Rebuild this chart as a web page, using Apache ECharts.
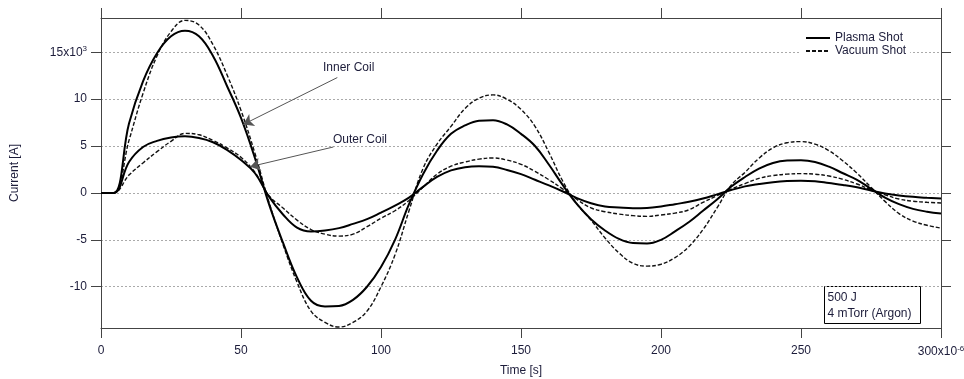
<!DOCTYPE html>
<html>
<head>
<meta charset="utf-8">
<script src="https://cdn.jsdelivr.net/npm/echarts@6/dist/echarts.min.js"></script>
<style>
  html, body { margin: 0; padding: 0; background: #fff; }
  #chart { width: 964px; height: 379px; }
</style>
</head>
<body>
<div id="chart"></div>
<script>
// time in microseconds (axis is labelled x10^-6 s)
const timeUs = [0, 4.5, 10, 15, 20, 25, 30, 35, 40, 45, 50, 55, 60, 65, 70, 75, 80, 85, 90, 95,
  100, 105, 110, 115, 120, 125, 130, 135, 140, 145, 150, 155, 160, 165, 170, 175, 180, 185, 190, 195,
  200, 205, 210, 215, 220, 225, 230, 235, 240, 245, 250, 255, 260, 265, 270, 275, 280, 285, 290, 295, 300];

// current in kA (axis is labelled x10^3 A)
const innerPlasma = [0, 0, 7.4, 11.9, 14.9, 16.7, 17.3, 16.7, 14.6, 11.4, 8.0, 3.7, -1.2, -5.3, -9.0, -11.5, -12.1, -12.05, -11.4, -10.0,
  -7.9, -5.0, -1.2, 2.0, 4.5, 6.3, 7.2, 7.7, 7.75, 7.3, 6.3, 5.0, 3.0, 0.8, -1.2, -2.8, -4.0, -4.9, -5.35, -5.4,
  -5.0, -4.1, -3.1, -1.9, -0.7, 0.65, 1.7, 2.6, 3.2, 3.45, 3.48, 3.3, 2.8, 2.1, 1.4, 0.45, -0.5, -1.2, -1.7, -2.0, -2.2];
const innerVacuum = [0, 0, 5.6, 10.6, 14.6, 17.2, 18.4, 17.9, 15.8, 12.6, 8.8, 4.2, -1.0, -5.5, -9.5, -12.6, -13.8, -14.3, -13.8, -12.6,
  -10.0, -6.6, -1.9, 2.6, 5.2, 7.1, 9.0, 10.1, 10.45, 10.0, 8.9, 7.1, 4.3, 1.2, -1.2, -2.9, -4.8, -6.4, -7.5, -7.8,
  -7.6, -6.9, -5.7, -3.9, -1.6, 0.8, 2.2, 3.7, 4.8, 5.35, 5.47, 5.2, 4.5, 3.4, 2.1, 0.6, -0.9, -2.2, -3.0, -3.45, -3.75];
const outerPlasma = [0, 0, 3.3, 4.9, 5.55, 5.9, 6.03, 5.85, 5.4, 4.6, 3.5, 2.1, -0.4, -2.3, -3.7, -4.1, -4.0, -3.75, -3.3, -2.8,
  -2.1, -1.35, -0.5, 0.65, 1.7, 2.4, 2.75, 2.85, 2.78, 2.45, 2.0, 1.4, 0.8, 0.15, -0.55, -1.1, -1.45, -1.55, -1.62, -1.6,
  -1.45, -1.2, -0.95, -0.6, -0.15, 0.3, 0.7, 0.95, 1.15, 1.27, 1.31, 1.25, 1.05, 0.85, 0.6, 0.25, -0.05, -0.27, -0.42, -0.52, -0.6];
const outerVacuum = [0, 0, 1.9, 3.2, 4.4, 5.5, 6.35, 6.2, 5.6, 4.8, 3.8, 2.2, -0.3, -1.6, -2.9, -3.9, -4.4, -4.6, -4.4, -3.6,
  -2.7, -1.9, -0.8, 0.6, 2.0, 2.85, 3.3, 3.6, 3.73, 3.5, 3.05, 2.3, 1.4, 0.4, -0.7, -1.6, -2.0, -2.25, -2.42, -2.5,
  -2.35, -2.15, -1.8, -1.0, -0.3, 0.4, 1.0, 1.55, 1.85, 2.0, 2.06, 2.0, 1.8, 1.45, 0.95, 0.35, -0.2, -0.65, -0.88, -1.0, -1.07];

const yTicks = [-10, -5, 0, 5, 10, 15];
const xMax = 300;

const pairs = (ys) => timeUs.map((t, i) => [t, ys[i]]);
const font = 'Arial, "Liberation Sans", sans-serif';
const textColor = '#1c1c3a';
const axisColor = '#444';

const supRich = {
  sup: { fontSize: 8, verticalAlign: 'top', color: textColor, fontFamily: font, padding: [0, 0, 6, 0] }
};

const chart = echarts.init(document.getElementById('chart'));

const solid = { color: '#000', width: 2 };
const dashed = { color: '#111', width: 1.4, type: [4, 2] };

chart.setOption({
  animation: false,
  textStyle: { fontFamily: font },
  grid: { left: 101, right: 23, top: 18, bottom: 51, containLabel: false, outerBoundsMode: 'none' },
  legend: {
    data: ['Plasma Shot', 'Vacuum Shot'],
    orient: 'vertical',
    left: 801,
    top: 32,
    itemWidth: 24,
    itemHeight: 14,
    itemGap: 1,
    padding: [0, 4],
    backgroundColor: '#fff',
    itemStyle: { opacity: 0 },
    textStyle: { fontSize: 12, color: textColor, fontFamily: font }
  },
  xAxis: [{
    type: 'value',
    min: 0, max: xMax, interval: 50,
    name: 'Time [s]',
    nameLocation: 'middle',
    nameGap: 37,
    nameTextStyle: { fontSize: 12, color: textColor, fontFamily: font },
    axisLine: { onZero: false, lineStyle: { color: axisColor } },
    axisTick: { inside: false, length: 10, lineStyle: { color: axisColor } },
    axisLabel: {
      margin: 17, fontSize: 12, color: textColor,
      formatter: (v) => v === xMax ? v + 'x10{sup|-6}' : String(v),
      rich: supRich
    },
    splitLine: { show: false }
  }, {
    type: 'value', position: 'top',
    min: 0, max: xMax, interval: 50,
    axisLine: { onZero: false, lineStyle: { color: axisColor } },
    axisTick: { inside: false, length: 10, lineStyle: { color: axisColor } },
    axisLabel: { show: false },
    splitLine: { show: false }
  }],
  yAxis: [{
    type: 'value',
    min: -14.4, max: 18.65,
    name: 'Current [A]',
    nameLocation: 'middle',
    nameGap: 80,
    nameTextStyle: { fontSize: 12, color: textColor, fontFamily: font },
    axisLine: { onZero: false, lineStyle: { color: axisColor } },
    axisTick: { inside: false, length: 10, customValues: yTicks, lineStyle: { color: axisColor } },
    axisLabel: {
      margin: 14, fontSize: 12, color: textColor,
      customValues: yTicks,
      formatter: (v) => v === 15 ? '15x10{sup|3}' : String(v),
      rich: supRich
    },
    splitLine: { show: true, lineStyle: { color: '#aaa', type: [2, 2], width: 1 } }
  }, {
    type: 'value', position: 'right',
    min: -14.4, max: 18.65,
    axisLine: { onZero: false, lineStyle: { color: axisColor } },
    axisTick: { inside: false, length: 10, customValues: yTicks, lineStyle: { color: axisColor } },
    axisLabel: { show: false },
    splitLine: { show: false }
  }],
  series: [
    {
      name: 'Plasma Shot', type: 'line', data: pairs(innerPlasma),
      smooth: 0.4, symbol: 'none', color: '#000', lineStyle: solid, z: 3,
      markLine: {
        silent: true, symbol: ['none', 'arrow'], symbolSize: 10,
        label: { show: false },
        itemStyle: { color: '#000' },
        lineStyle: { color: '#555', width: 1, type: 'solid' },
        data: [
          [{ coord: [84.4, 12.3] }, { coord: [50.8, 7.3] }],
          [{ coord: [83, 4.9] }, { coord: [53.3, 2.8] }]
        ]
      }
    },
    { name: 'Vacuum Shot', type: 'line', data: pairs(innerVacuum), smooth: 0.4, symbol: 'none', color: '#000', lineStyle: dashed, z: 2 },
    { name: 'Plasma Shot', type: 'line', data: pairs(outerPlasma), smooth: 0.4, symbol: 'none', color: '#000', lineStyle: solid, z: 3 },
    { name: 'Vacuum Shot', type: 'line', data: pairs(outerVacuum), smooth: 0.4, symbol: 'none', color: '#000', lineStyle: dashed, z: 2 }
  ],
  graphic: [
    { type: 'text', left: 323, top: 62, style: { text: 'Inner Coil', fontSize: 12, fill: textColor, fontFamily: font } },
    { type: 'text', left: 333, top: 134, style: { text: 'Outer Coil', fontSize: 12, fill: textColor, fontFamily: font } },
    {
      type: 'group', left: 824, top: 286,
      children: [
        { type: 'rect', shape: { x: 0, y: 0, width: 96, height: 37 }, style: { fill: '#fff', stroke: '#000', lineWidth: 1 } },
        { type: 'text', x: 3, y: 3, style: { text: '500 J\n4 mTorr (Argon)', fontSize: 12, lineHeight: 16, fill: textColor, fontFamily: font } }
      ]
    }
  ]
});
</script>
</body>
</html>
